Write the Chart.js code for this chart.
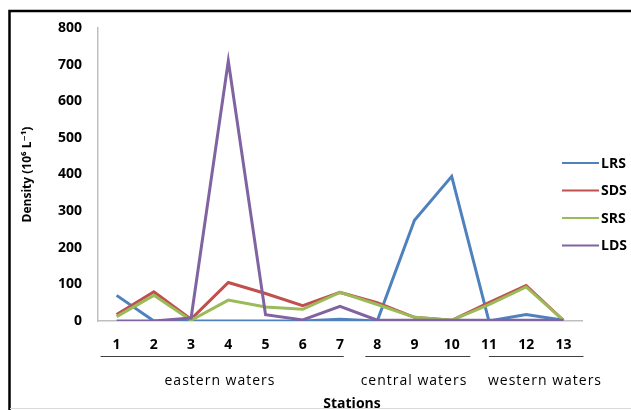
<!DOCTYPE html>
<html>
<head>
<meta charset="utf-8">
<script src="https://cdn.jsdelivr.net/npm/chart.js@4/dist/chart.umd.min.js"></script>
<style>
  html, body { margin: 0; padding: 0; background: #fff; }
  #wrap { width: 631px; height: 410px; position: relative; }
</style>
</head>
<body>
<div id="wrap"><canvas id="chart"></canvas></div>
<script>
// Station numbers along the x axis
const stations = ['1', '2', '3', '4', '5', '6', '7', '8', '9', '10', '11', '12', '13'];

// Density values (10^6 L^-1) per station
const lrs = [70, 0, 0, 0, 0, 0, 5, 0, 275, 395, 0, 18, 2];
const sds = [18, 80, 5, 105, 75, 42, 78, 50, 10, 2, 50, 97, 2];
const srs = [12, 70, 2, 57, 38, 32, 78, 45, 10, 2, 45, 93, 2];
const lds = [0, 0, 8, 710, 17, 3, 40, 2, 2, 2, 2, 2, 2];

// Station groups under the axis
const groupNames = ['eastern waters', 'central waters', 'western waters'];
const groupFirst = [0, 7, 10];
const groupLast = [6, 9, 12];

// Extra underline reach beyond first/last station (in category units)
const underlineReach = [[-0.43, 0.1], [-0.32, 0.5], [0.0, 0.54]];
const groupLabelX = [220, 414, 545];

const font = '"Open Sans", "DejaVu Sans", sans-serif';

// Draw frame, legend, group underlines and labels
const decorPlugin = {
    id: 'decor',
    afterDraw(chart) {
        const ctx = chart.ctx;
        const x = chart.scales.x;
        ctx.save();

        // outer frame
        ctx.strokeStyle = '#000';
        ctx.lineWidth = 2.5;
        ctx.beginPath();
        ctx.moveTo(9.5, 410);
        ctx.lineTo(9.5, 11);
        ctx.lineTo(631, 11);
        ctx.stroke();
        ctx.strokeStyle = '#d9d9d9';
        ctx.lineWidth = 1;
        ctx.beginPath();
        ctx.moveTo(10, 408.5);
        ctx.lineTo(631, 408.5);
        ctx.stroke();

        // group underlines
        ctx.strokeStyle = '#404040';
        ctx.lineWidth = 1;
        groupNames.forEach((name, i) => {
            const x0 = x.getPixelForValue(groupFirst[i] + underlineReach[i][0]);
            const x1 = x.getPixelForValue(groupLast[i] + underlineReach[i][1]);
            ctx.beginPath();
            ctx.moveTo(x0, 356.5);
            ctx.lineTo(x1, 356.5);
            ctx.stroke();
        });

        // group labels
        ctx.fillStyle = '#000';
        ctx.font = '500 14px ' + font;
        ctx.letterSpacing = '1px';
        ctx.textAlign = 'center';
        ctx.textBaseline = 'middle';
        groupNames.forEach((name, i) => {
            ctx.fillText(name, groupLabelX[i], 381);
        });
        ctx.letterSpacing = '0px';

        // axis title
        ctx.font = 'bold 14px ' + font;
        ctx.fillText('Stations', 352, 404);

        // legend
        chart.data.datasets.forEach((ds, i) => {
            const y = 163 + i * 27.5;
            ctx.strokeStyle = ds.borderColor;
            ctx.lineWidth = 2;
            ctx.beginPath();
            ctx.moveTo(562, y);
            ctx.lineTo(599, y);
            ctx.stroke();
            ctx.fillStyle = '#000';
            ctx.textAlign = 'left';
            ctx.font = 'bold 14px ' + font;
            ctx.fillText(ds.label, 601, y + 1);
        });

        ctx.restore();
    }
};

function makeSet(label, data, color, order) {
    return {
        label: label,
        data: data,
        borderColor: color,
        backgroundColor: color,
        borderWidth: 3,
        pointRadius: 0,
        tension: 0,
        order: order
    };
}

new Chart(document.getElementById('chart'), {
    type: 'line',
    data: {
        labels: stations,
        datasets: [
            makeSet('LRS', lrs, '#4f81bd', 3),
            makeSet('SDS', sds, '#c0504d', 2),
            makeSet('SRS', srs, '#9bbb59', 1),
            makeSet('LDS', lds, '#8064a2', 0)
        ]
    },
    options: {
        responsive: true,
        maintainAspectRatio: false,
        animation: false,
        events: [],
        layout: { padding: { top: 28, right: 49, bottom: 0, left: 0 } },
        plugins: {
            legend: { display: false },
            tooltip: { enabled: false }
        },
        scales: {
            x: {
                offset: true,
                grid: { display: true, drawOnChartArea: false, drawTicks: false },
                border: { color: '#bfbfbf', width: 1.5 },
                ticks: {
                    color: '#000',
                    padding: 16,
                    maxRotation: 0,
                    font: { family: font, size: 14, weight: 'bold' }
                },
                afterFit: s => { s.height = 89; }
            },
            y: {
                min: 0,
                max: 800,
                grid: { display: true, drawOnChartArea: false, drawTicks: false },
                border: { color: '#bfbfbf', width: 1.5 },
                ticks: {
                    stepSize: 100,
                    color: '#000',
                    padding: 16,
                    font: { family: font, size: 14, weight: 'bold' }
                },
                title: {
                    display: true,
                    text: 'Density (10⁶ L⁻¹)',
                    color: '#000',
                    padding: { top: 20, bottom: 0 },
                    font: { family: font, size: 12, weight: 'bold' }
                },
                afterFit: s => { s.width = 98; }
            }
        }
    },
    plugins: [decorPlugin]
});
</script>
</body>
</html>
